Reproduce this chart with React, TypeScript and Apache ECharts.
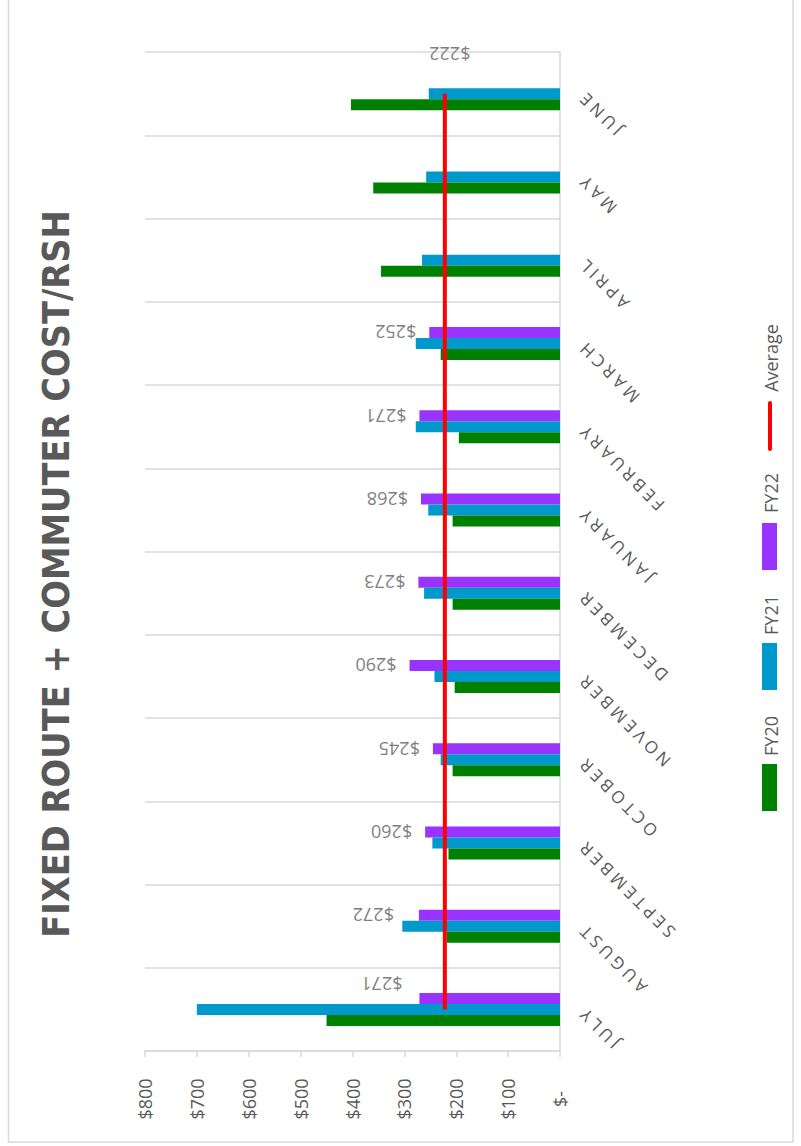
import React, { useEffect, useRef } from "react";
import * as echarts from "echarts";

const months = ["JULY", "AUGUST", "SEPTEMBER", "OCTOBER", "NOVEMBER", "DECEMBER", "JANUARY", "FEBRUARY", "MARCH", "APRIL", "MAY", "JUNE"];
const fy20 = [450, 218, 215, 207, 203, 207, 207, 195, 230, 345, 360, 403];
const fy21 = [700, 304, 246, 230, 242, 262, 254, 278, 278, 266, 258, 253];
const fy22 = [271, 272, 260, 245, 290, 273, 268, 271, 252, null, null, null];
const average = [222, 222, 222, 222, 222, 222, 222, 222, 222, 222, 222, 222];
const valueMin = 0;
const valueMax = 800;
const valueStep = 100;
const title = "FIXED ROUTE + COMMUTER COST/RSH";
const legendNames = ["FY20", "FY21", "FY22", "Average"];

const GREEN = "#008000";
const BLUE = "#0099CC";
const PURPLE = "#9933FF";
const RED = "#FF0000";
const TEXT = "#595959";
const LABEL = "#7F7F7F";
const GRID = "#D9D9D9";
const FONT = '"Open Sans", "Noto Sans", sans-serif';

export default function App() {
  const ref = useRef<HTMLDivElement>(null);
  useEffect(() => {
    if (!ref.current) return;
    const chart = echarts.init(ref.current, null, { renderer: "svg" });
    const barLabel = {
      show: true,
      position: "left",
      distance: 13,
      rotate: 180,
      align: "left",
      verticalAlign: "middle",
      color: LABEL,
      fontSize: 18,
      fontFamily: FONT,
      formatter: (p: any) => "$" + p.value,
    };
    const fy22Data = fy22.map((v, i) => {
      if (v == null) return null;
      if (i === 0) return { value: v, label: { distance: 17, offset: [0, 14] } };
      if (i === 1) return { value: v, label: { distance: 25 } };
      return v;
    });
    const avgData = average.map((v, i) =>
      i === average.length - 1
        ? {
            value: v,
            label: {
              show: true,
              position: "top",
              distance: 30,
              rotate: 180,
              align: "center",
              verticalAlign: "top",
              offset: [-5, 0],
              color: LABEL,
              fontSize: 18,
              fontFamily: FONT,
              formatter: (p: any) => "$" + p.value,
            },
          }
        : v
    );
    chart.setOption({
      animation: false,
      backgroundColor: "#FFFFFF",
      grid: { left: 145, right: 241, top: 52, bottom: 95, containLabel: false },
      xAxis: {
        type: "value",
        inverse: true,
        min: valueMin,
        max: valueMax,
        interval: valueStep,
        position: "bottom",
        axisLine: { show: true, lineStyle: { color: GRID, width: 1.5 } },
        axisTick: { show: true, length: 6, lineStyle: { color: GRID, width: 1.5 } },
        splitLine: { show: false },
        axisLabel: {
          rotate: 90,
          align: "center",
          verticalAlign: "middle",
          margin: 48,
          color: TEXT,
          fontSize: 18,
          fontFamily: FONT,
          formatter: (v: number) => (v === 0 ? "$-" : "$" + v),
        },
      },
      yAxis: {
        type: "category",
        data: months,
        position: "right",
        boundaryGap: true,
        axisLine: { show: true, lineStyle: { color: GRID, width: 1.5 } },
        axisTick: { show: false },
        splitLine: { show: true, lineStyle: { color: GRID, width: 1.5 } },
        axisLabel: {
          rotate: 135,
          align: "right",
          verticalAlign: "middle",
          margin: 20,
          color: TEXT,
          fontSize: 17,
          fontFamily: FONT,
        },
      },
      series: [
        {
          name: legendNames[2],
          type: "bar",
          data: fy22Data,
          barWidth: 11,
          barGap: "0%",
          itemStyle: { color: PURPLE },
          label: barLabel,
        },
        {
          name: legendNames[1],
          type: "bar",
          data: fy21,
          barWidth: 11,
          barGap: "0%",
          itemStyle: { color: BLUE },
        },
        {
          name: legendNames[0],
          type: "bar",
          data: fy20,
          barWidth: 11,
          barGap: "0%",
          itemStyle: { color: GREEN },
        },
        {
          name: legendNames[3],
          type: "line",
          data: avgData,
          symbol: "circle",
          symbolSize: 1,
          showSymbol: true,
          itemStyle: { color: "rgba(255,0,0,0)" },
          z: 10,
          lineStyle: { color: RED, width: 4 },
        },
      ],
      graphic: [
        {
          type: "polyline",
          silent: true,
          shape: { points: [[8.5, 0], [8.5, 1142], [793, 1142], [793, 0]] },
          style: { stroke: GRID, lineWidth: 1.5, fill: null },
        },
        {
          type: "text",
          x: 56,
          y: 574,
          rotation: Math.PI / 2,
          style: {
            text: title,
            fill: TEXT,
            font: 'bold 37.5px "DejaVu Sans Condensed", "Liberation Sans Narrow", "DejaVu Sans", sans-serif',
            align: "center",
            verticalAlign: "middle",
          },
        },
        { type: "rect", shape: { x: 762, y: 764, width: 15, height: 47 }, style: { fill: GREEN } },
        { type: "rect", shape: { x: 762, y: 643, width: 15, height: 47 }, style: { fill: BLUE } },
        { type: "rect", shape: { x: 762, y: 523, width: 15, height: 47 }, style: { fill: PURPLE } },
        {
          type: "line",
          shape: { x1: 770, y1: 403, x2: 770, y2: 449 },
          style: { stroke: RED, lineWidth: 4, lineCap: "round" },
        },
        ...[
          { name: legendNames[0], y: 736 },
          { name: legendNames[1], y: 615 },
          { name: legendNames[2], y: 493 },
          { name: legendNames[3], y: 358 },
        ].map((l) => ({
          type: "text",
          x: 771,
          y: l.y,
          rotation: Math.PI / 2,
          style: {
            text: l.name,
            fill: TEXT,
            font: "18px " + FONT,
            align: "center",
            verticalAlign: "middle",
          },
        })),
      ],
    });
    const applySpacing = () => {
      const texts = ref.current ? ref.current.querySelectorAll("text") : [];
      texts.forEach((t: any) => {
        const s = (t.textContent || "").trim();
        if (months.indexOf(s) >= 0) t.setAttribute("letter-spacing", "4");
      });
    };
    applySpacing();
    chart.on("finished", applySpacing);
    return () => {
      chart.dispose();
    };
  }, []);
  return (
    <div
      ref={ref}
      style={{ position: "fixed", left: 0, top: 0, width: 801, height: 1146, background: "#fff" }}
    />
  );
}
